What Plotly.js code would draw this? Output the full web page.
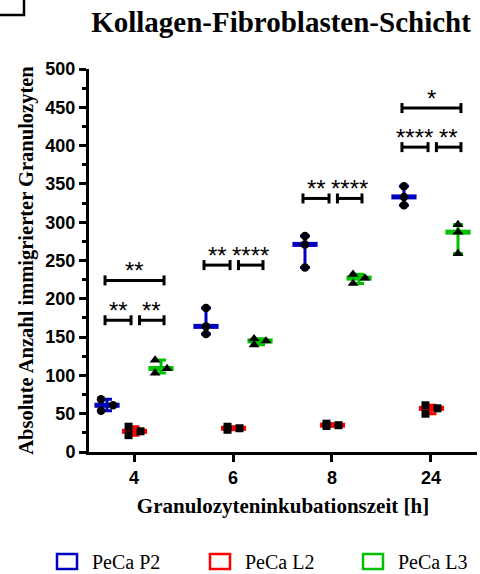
<!DOCTYPE html>
<html>
<head>
<meta charset="utf-8">
<script src="https://cdn.plot.ly/plotly-3.0.1.min.js"></script>
<style>html,body{margin:0;padding:0;background:#fff;}#chart{width:480px;height:574px;}</style>
</head>
<body>
<div id="chart"></div>
<script>
// ---- data ----
const categories = ['4', '6', '8', '24'];
const seriesNames = ['PeCa P2', 'PeCa L2', 'PeCa L3'];
const p2Values = [[69, 54, 61], [188, 164, 154], [282, 271, 241], [347, 333, 322]];
const l2Values = [[33, 22, 27], [31, 29, 33], [34, 37, 35], [61, 50, 57]];
const l3Values = [[120, 103, 109], [148, 140, 145], [232, 220, 227], [297, 287, 259]];
const yTickVals = [0, 50, 100, 150, 200, 250, 300, 350, 400, 450, 500];

// significance comparisons
const sigGroup = [0, 0, 0, 1, 1, 2, 2, 3, 3, 3];
const sigFrom  = [0, 1, 0, 0, 1, 0, 1, 0, 1, 0];
const sigTo    = [1, 2, 2, 1, 2, 1, 2, 1, 2, 2];
const sigY     = [172, 172, 224, 244, 244, 331, 331, 398, 398, 449];
const sigLabel = ['**', '**', '**', '**', '****', '**', '****', '****', '**', '*'];

// ---- style / layout ----
const W = 480, H = 574;
const M = {l: 89, r: 3, t: 69, b: 122};
const plotW = W - M.l - M.r, plotH = H - M.t - M.b;
const xRange = [-0.455, 3.465], yRange = [0, 500];
const pxX = plotW / (xRange[1] - xRange[0]);
const pxY = plotH / (yRange[1] - yRange[0]);
const colors = ['#0000c0', '#ff0000', '#00c000'];
const symbols = ['circle', 'square', 'triangle-up'];
const msize = [8.5, 8, 9.5];
const offsets = [-0.273, 0.005, 0.273];
const serif = 'Liberation Serif, Times New Roman, serif';
const sans = 'Liberation Sans, Arial, sans-serif';
const allSeries = [p2Values, l2Values, l3Values];

function median(a) { const s = a.slice().sort((p, q) => p - q); return s[Math.floor(s.length / 2)]; }

// simple two-column beeswarm (pixel based)
function swarm(vals) {
  const thr = 7, d = 12;
  const idx = vals.map((v, i) => i).sort((a, b) => vals[a] - vals[b]);
  const col = new Array(vals.length).fill(0);
  const placed = [[], []];
  idx.forEach(i => {
    const y = vals[i] * pxY;
    const clash = c => placed[c].some(p => Math.abs(p - y) < thr);
    let c = 0;
    if (clash(0) && !clash(1)) c = 1;
    col[i] = c; placed[c].push(y);
  });
  const shift = placed[1].length ? -d / 2 : 0;
  return col.map(c => (c * d + shift) / pxX);
}

const traces = [];
// median + range
allSeries.forEach((ser, s) => {
  const xs = [], ys = [], up = [], dn = [];
  ser.forEach((vals, g) => {
    const m = median(vals);
    xs.push(g + offsets[s]); ys.push(m);
    up.push(Math.max(...vals) - m); dn.push(m - Math.min(...vals));
  });
  traces.push({
    type: 'scatter', mode: 'markers', x: xs, y: ys, showlegend: false, hoverinfo: 'skip',
    marker: {symbol: 'line-ew', size: 18, color: colors[s], line: {color: colors[s], width: 5}},
    error_y: {type: 'data', symmetric: false, array: up, arrayminus: dn, color: colors[s], thickness: 3, width: 5}
  });
});
// individual points
allSeries.forEach((ser, s) => {
  const xs = [], ys = [];
  ser.forEach((vals, g) => {
    const jit = swarm(vals);
    vals.forEach((v, i) => { xs.push(g + offsets[s] + jit[i]); ys.push(v); });
  });
  traces.push({
    type: 'scatter', mode: 'markers', x: xs, y: ys, name: seriesNames[s], showlegend: false,
    marker: {symbol: symbols[s], size: msize[s], color: '#000', line: {width: 0}}
  });
});

const shapes = [], annotations = [];
sigGroup.forEach((g, k) => {
  const a = sigFrom[k], b = sigTo[k];
  const x0 = g + offsets[a] - 0.02 + (a === 1 ? 0.07 : 0);
  const x1 = g + offsets[b] + 0.03 - (b === 1 ? 0.065 : 0);
  const y = sigY[k];
  const ln = {color: '#000', width: 3};
  shapes.push({type: 'line', xref: 'x', yref: 'y', x0: x0, x1: x1, y0: y, y1: y, line: ln});
  [x0, x1].forEach(xx => shapes.push({type: 'line', xref: 'x', yref: 'y', x0: xx, x1: xx,
    ysizemode: 'pixel', yanchor: y, y0: -5, y1: 5, line: ln}));
  annotations.push({xref: 'x', yref: 'y', x: (x0 + x1) / 2, y: y, text: sigLabel[k], showarrow: false,
    xanchor: 'center', yanchor: 'bottom', yshift: -6, font: {family: sans, size: 24, color: '#000'}});
});

// legend (drawn manually)
const px2x = px => (px - M.l) / plotW;
const py2y = py => (H - M.b - py) / plotH;
const legendX = [57, 210, 363];
seriesNames.forEach((n, s) => {
  shapes.push({type: 'rect', xref: 'paper', yref: 'paper', x0: px2x(legendX[s]), x1: px2x(legendX[s] + 20),
    y0: py2y(569), y1: py2y(554), line: {color: colors[s], width: 2.5}, fillcolor: 'rgba(0,0,0,0)'});
  annotations.push({xref: 'paper', yref: 'paper', x: px2x(legendX[s] + 33), y: py2y(562), text: n,
    showarrow: false, xanchor: 'left', yanchor: 'middle', font: {family: serif, size: 20, color: '#000'}});
});
// panel corner mark
shapes.push({type: 'path', xref: 'paper', yref: 'paper',
  path: `M ${px2x(-2)} ${py2y(15)} L ${px2x(24)} ${py2y(15)} L ${px2x(24)} ${py2y(-2)}`,
  line: {color: '#000', width: 2.5}});

const layout = {
  width: W, height: H, margin: M, paper_bgcolor: '#fff', plot_bgcolor: '#fff', showlegend: false,
  title: {text: '<b>Kollagen-Fibroblasten-Schicht</b>', font: {family: serif, size: 29, color: '#000'},
    xref: 'paper', x: (281 - M.l) / plotW, xanchor: 'center', yref: 'container', y: 1 - 22 / H, yanchor: 'middle'},
  xaxis: {range: xRange, tickvals: [0, 1, 2, 3], ticktext: categories, showgrid: false, zeroline: false,
    showline: true, linecolor: '#000', linewidth: 3, ticks: 'outside', ticklen: 7, tickwidth: 3, tickcolor: '#000',
    tickfont: {family: sans, size: 18, color: '#000', weight: 'bold'},
    title: {text: '<b>Granulozyteninkubationszeit [h]</b>', font: {family: serif, size: 21, color: '#000'}, standoff: 12}},
  yaxis: {range: yRange, tickvals: yTickVals, showgrid: false, zeroline: false,
    showline: true, linecolor: '#000', linewidth: 3, ticks: 'outside', ticklen: 7, tickwidth: 3, tickcolor: '#000',
    minor: {dtick: 25, ticks: 'outside', ticklen: 4, tickwidth: 3, tickcolor: '#000', showgrid: false},
    tickfont: {family: sans, size: 18, color: '#000', weight: 'bold'},
    title: {text: '<b>Absolute Anzahl immigrierter Granulozyten</b>', font: {family: serif, size: 20.5, color: '#000'}, standoff: 7}},
  shapes: shapes, annotations: annotations
};
Plotly.newPlot('chart', traces, layout, {displayModeBar: false, staticPlot: true});
</script>
</body>
</html>
